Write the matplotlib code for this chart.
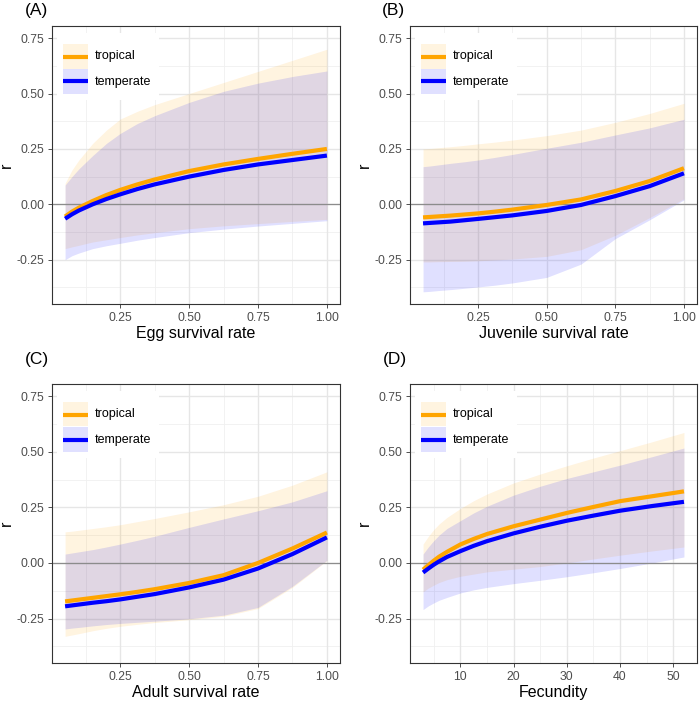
import matplotlib
matplotlib.use("Agg")
import matplotlib.pyplot as plt
from matplotlib.patches import Rectangle

plt.rcParams['font.family'] = ['Liberation Sans', 'DejaVu Sans']

# x grids
rate_x = [0.05, 0.075, 0.1, 0.15, 0.2, 0.25, 0.3125, 0.375, 0.5, 0.625, 0.75, 0.875, 1.0]
fec_x = [3, 4, 5, 6, 7.5, 10, 12.5, 15, 20, 25, 30, 35, 40, 46, 52]

# (A) egg survival
egg_trop = [-0.055, -0.033, -0.015, 0.015, 0.042, 0.065, 0.09, 0.112, 0.15, 0.18, 0.205, 0.228, 0.25]
egg_trop_lo = [-0.2, -0.192, -0.185, -0.17, -0.16, -0.15, -0.138, -0.128, -0.11, -0.097, -0.087, -0.077, -0.068]
egg_trop_hi = [0.095, 0.155, 0.2, 0.275, 0.335, 0.385, 0.42, 0.45, 0.5, 0.55, 0.6, 0.65, 0.70]
egg_temp = [-0.065, -0.045, -0.028, 0.0, 0.024, 0.045, 0.069, 0.09, 0.125, 0.155, 0.18, 0.2, 0.22]
egg_temp_lo = [-0.25, -0.232, -0.22, -0.2, -0.187, -0.176, -0.162, -0.15, -0.128, -0.112, -0.098, -0.086, -0.074]
egg_temp_hi = [0.087, 0.125, 0.16, 0.22, 0.275, 0.32, 0.365, 0.40, 0.46, 0.51, 0.547, 0.577, 0.602]

# (B) juvenile survival
juv_trop = [-0.059, -0.057, -0.055, -0.051, -0.046, -0.041, -0.033, -0.024, -0.003, 0.022, 0.06, 0.105, 0.163]
juv_trop_lo = [-0.26, -0.26, -0.259, -0.258, -0.257, -0.255, -0.251, -0.247, -0.235, -0.205, -0.14, -0.06, 0.025]
juv_trop_hi = [0.25, 0.252, 0.255, 0.26, 0.266, 0.273, 0.281, 0.29, 0.31, 0.335, 0.37, 0.41, 0.456]
juv_temp = [-0.086, -0.084, -0.082, -0.078, -0.072, -0.066, -0.058, -0.05, -0.03, -0.003, 0.037, 0.082, 0.14]
juv_temp_lo = [-0.395, -0.393, -0.39, -0.385, -0.379, -0.373, -0.365, -0.355, -0.33, -0.27, -0.155, -0.07, 0.02]
juv_temp_hi = [0.17, 0.173, 0.177, 0.185, 0.192, 0.2, 0.212, 0.225, 0.253, 0.28, 0.313, 0.345, 0.384]

# (C) adult survival
adu_trop = [-0.173, -0.169, -0.165, -0.157, -0.149, -0.141, -0.13, -0.118, -0.09, -0.055, 0.0, 0.065, 0.137]
adu_trop_lo = [-0.33, -0.324, -0.318, -0.305, -0.294, -0.285, -0.276, -0.268, -0.255, -0.24, -0.205, -0.11, 0.01]
adu_trop_hi = [0.14, 0.143, 0.147, 0.155, 0.163, 0.172, 0.186, 0.2, 0.23, 0.262, 0.3, 0.35, 0.41]
adu_temp = [-0.195, -0.191, -0.187, -0.179, -0.172, -0.164, -0.152, -0.14, -0.11, -0.075, -0.025, 0.04, 0.115]
adu_temp_lo = [-0.297, -0.293, -0.29, -0.283, -0.277, -0.272, -0.267, -0.262, -0.251, -0.235, -0.2, -0.105, 0.012]
adu_temp_hi = [0.04, 0.045, 0.05, 0.06, 0.072, 0.085, 0.102, 0.12, 0.16, 0.198, 0.235, 0.275, 0.325]

# (D) fecundity
fec_trop = [-0.03, -0.01, 0.01, 0.028, 0.05, 0.083, 0.108, 0.13, 0.165, 0.195, 0.225, 0.252, 0.278, 0.3, 0.322]
fec_trop_lo = [-0.13, -0.113, -0.1, -0.088, -0.075, -0.06, -0.05, -0.04, -0.028, -0.016, 0.0, 0.018, 0.035, 0.054, 0.072]
fec_trop_hi = [0.085, 0.12, 0.15, 0.175, 0.205, 0.245, 0.28, 0.31, 0.36, 0.4, 0.437, 0.472, 0.505, 0.545, 0.587]
fec_temp = [-0.043, -0.025, -0.008, 0.007, 0.027, 0.053, 0.077, 0.098, 0.133, 0.163, 0.19, 0.213, 0.235, 0.256, 0.275]
fec_temp_lo = [-0.21, -0.193, -0.18, -0.168, -0.155, -0.135, -0.121, -0.11, -0.093, -0.078, -0.062, -0.044, -0.025, 0.0, 0.027]
fec_temp_hi = [0.04, 0.072, 0.1, 0.125, 0.155, 0.19, 0.225, 0.255, 0.305, 0.345, 0.38, 0.41, 0.44, 0.478, 0.517]

group_names = ['tropical', 'temperate']

TROP = '#FFA500'
TEMP = '#0000FF'
FILL_ALPHA = 0.12

W, H = 699, 702
fig = plt.figure(figsize=(W / 100, H / 100), dpi=100)


def make_axes(left, top, right, bottom):
    ax = fig.add_axes([left / W, 1 - bottom / H, (right - left) / W, (bottom - top) / H])
    ax.px_box = (left, top, right, bottom)
    return ax


def px_to_axes(ax, dx, dy):
    # offsets in pixels from the axes' top-left corner -> axes fraction
    left, top, right, bottom = ax.px_box
    return dx / (right - left), 1 - dy / (bottom - top)


def add_legend(ax):
    x0, y0 = px_to_axes(ax, 5, 7)
    x1, y1 = px_to_axes(ax, 107, 74)
    ax.add_patch(Rectangle((x0, y1), x1 - x0, y0 - y1, transform=ax.transAxes,
                           facecolor='white', edgecolor='none', zorder=5))
    for i, (name, col) in enumerate(zip(group_names, [TROP, TEMP])):
        top = 18 + 25 * i
        kx0, ky0 = px_to_axes(ax, 11, top)
        kx1, ky1 = px_to_axes(ax, 36, top + 24.5)
        ax.add_patch(Rectangle((kx0, ky1), kx1 - kx0, ky0 - ky1, transform=ax.transAxes,
                               facecolor=col, alpha=FILL_ALPHA, edgecolor='none', zorder=6))
        _, ly = px_to_axes(ax, 0, top + 12.5)
        ax.plot([kx0, kx1], [ly, ly], transform=ax.transAxes, color=col, lw=3,
                solid_capstyle='butt', zorder=7)
        tx, _ = px_to_axes(ax, 43, 0)
        ax.text(tx, ly, name, transform=ax.transAxes, fontsize=9, va='center',
                ha='left', color='black', zorder=7)


def draw_panel(ax, tag, tag_xy, x, trop, trop_lo, trop_hi, temp, temp_lo, temp_hi,
               xlabel, xlim, xticks, xminor, xfmt):
    ax.set_xlim(xlim)
    ax.set_ylim(-0.45, 0.805)
    yticks = [-0.25, 0.0, 0.25, 0.5, 0.75]
    yminor = [-0.375, -0.125, 0.125, 0.375, 0.625]
    for v in xminor:
        ax.axvline(v, color='#F0F0F0', lw=0.6, zorder=0)
    for v in yminor:
        ax.axhline(v, color='#F0F0F0', lw=0.6, zorder=0)
    for v in xticks:
        ax.axvline(v, color='#E6E6E6', lw=1.0, zorder=0)
    for v in yticks:
        ax.axhline(v, color='#E6E6E6', lw=1.0, zorder=0)

    ax.fill_between(x, trop_lo, trop_hi, color=TROP, alpha=FILL_ALPHA, lw=0, zorder=1)
    ax.fill_between(x, temp_lo, temp_hi, color=TEMP, alpha=FILL_ALPHA, lw=0, zorder=1)
    ax.axhline(0, color='#8C8C8C', lw=0.9, zorder=2)
    ax.plot(x, trop, color=TROP, lw=3, zorder=3, solid_capstyle='butt')
    ax.plot(x, temp, color=TEMP, lw=3, zorder=3, solid_capstyle='butt')

    ax.set_xticks(xticks)
    ax.set_xticklabels([xfmt(v) for v in xticks])
    ax.set_yticks(yticks)
    ax.set_yticklabels(['-0.25', '0.00', '0.25', '0.50', '0.75'])
    ax.tick_params(direction='out', length=3.2, width=0.6, color='#333333',
                   labelcolor='#4D4D4D', labelsize=8.8, pad=2.5)
    for sp in ax.spines.values():
        sp.set_color('#333333')
        sp.set_linewidth(0.8)
    ax.set_xlabel(xlabel, fontsize=11.5, color='black', labelpad=1.5)
    ax.set_ylabel('r', fontsize=11.5, color='black')
    ax.yaxis.set_label_coords(-0.132, 0.5)
    fig.text(tag_xy[0] / W, 1 - tag_xy[1] / H, tag, fontsize=12.5, ha='left', va='top')

    add_legend(ax)


rate_fmt = lambda v: '%.2f' % v
fec_fmt = lambda v: '%d' % v
rate_lim = (0.0025, 1.0475)
rate_ticks = [0.25, 0.5, 0.75, 1.0]
rate_minor = [0.125, 0.375, 0.625, 0.875]

axA = make_axes(52, 26, 340, 304)
draw_panel(axA, '(A)', (25, 3), rate_x, egg_trop, egg_trop_lo, egg_trop_hi,
           egg_temp, egg_temp_lo, egg_temp_hi, 'Egg survival rate',
           rate_lim, rate_ticks, rate_minor, rate_fmt)

axB = make_axes(410, 26, 697, 304)
draw_panel(axB, '(B)', (382, 3), rate_x, juv_trop, juv_trop_lo, juv_trop_hi,
           juv_temp, juv_temp_lo, juv_temp_hi, 'Juvenile survival rate',
           rate_lim, rate_ticks, rate_minor, rate_fmt)

axC = make_axes(52, 384, 340, 663)
draw_panel(axC, '(C)', (25, 352), rate_x, adu_trop, adu_trop_lo, adu_trop_hi,
           adu_temp, adu_temp_lo, adu_temp_hi, 'Adult survival rate',
           rate_lim, rate_ticks, rate_minor, rate_fmt)

axD = make_axes(410, 384, 697, 663)
draw_panel(axD, '(D)', (383, 352), fec_x, fec_trop, fec_trop_lo, fec_trop_hi,
           fec_temp, fec_temp_lo, fec_temp_hi, 'Fecundity',
           (0.55, 54.45), [10, 20, 30, 40, 50], [5, 15, 25, 35, 45], fec_fmt)

fig.savefig('out.png', dpi=100)
